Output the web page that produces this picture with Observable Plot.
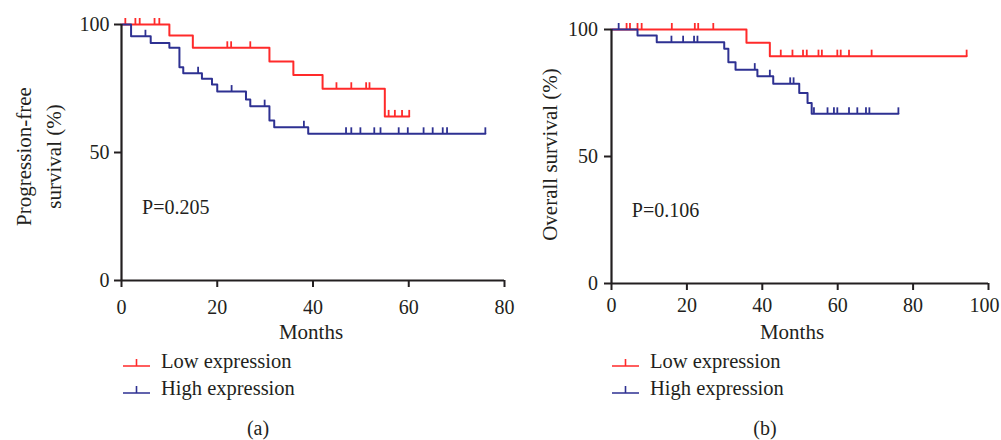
<!DOCTYPE html>
<html><head><meta charset="utf-8">
<script src="https://cdn.jsdelivr.net/npm/d3@7"></script>
<script src="https://cdn.jsdelivr.net/npm/@observablehq/plot@0.6"></script>
<style>
body{margin:0;background:#fff;font-family:"Liberation Serif",serif;color:#231f20;}
#wrap{position:relative;width:1001px;height:440px;overflow:hidden;}
.panel{position:absolute;top:0;}
.legend{position:absolute;font-size:20.5px;line-height:27px;}
.legend .row{display:flex;align-items:center;height:27px;}
.legend svg{margin-right:10px;}
.cap{position:absolute;font-size:20px;text-align:center;}
</style></head><body><div id="wrap"></div>
<script>
// ---- data ----
const seriesNames = ["Low expression", "High expression"];
const seriesColors = ["#ff2a2a", "#2e3192"];

// Panel (a): progression-free survival
const pfsLowEventTimes = [10.0, 14.9, 30.9, 35.9, 42.0, 55.0];
const pfsLowEventSurv  = [95.7, 90.9, 85.5, 80.3, 74.9, 64.1];
const pfsLowCensor     = [0.8, 2.9, 3.8, 6.9, 7.9, 22.1, 22.9, 26.9, 44.9, 48.0, 51.1, 51.8, 55.8, 57.1, 58.6, 60.1];
const pfsHighEventTimes = [2.0, 6.1, 10.0, 12.1, 12.9, 16.8, 18.9, 20.0, 26.0, 26.9, 30.9, 31.9, 39.0];
const pfsHighEventSurv  = [95.4, 92.8, 90.9, 83.3, 81.0, 78.8, 76.6, 73.8, 70.7, 68.1, 62.5, 59.9, 57.3];
const pfsHighCensor     = [5.0, 16.0, 23.0, 29.9, 38.1, 46.9, 48.0, 49.9, 52.8, 54.1, 57.9, 59.8, 63.1, 65.0, 67.1, 68.0, 76.0];

// Panel (b): overall survival
const osLowEventTimes = [35.8, 42.0];
const osLowEventSurv  = [94.8, 89.5];
const osLowCensor     = [4.0, 4.9, 6.9, 8.0, 16.0, 22.1, 23.0, 27.0, 44.9, 48.0, 50.8, 51.8, 54.9, 55.8, 59.9, 60.8, 63.0, 69.0, 94.2];
const osHighEventTimes = [6.9, 12.0, 29.9, 31.0, 32.9, 38.7, 42.9, 49.8, 52.0, 53.1];
const osHighEventSurv  = [97.6, 95.0, 92.4, 87.1, 84.2, 81.6, 78.6, 75.0, 71.1, 66.8];
const osHighCensor     = [1.9, 15.9, 19.0, 21.9, 22.8, 38.0, 42.0, 47.4, 48.3, 53.7, 57.3, 59.0, 59.9, 63.0, 65.2, 67.5, 68.4, 76.1];

const yTicks = [0, 50, 100];
const xTicksA = [0, 20, 40, 60, 80];
const xTicksB = [0, 20, 40, 60, 80, 100];
const xLabel = "Months";
const yLabelA = "Progression-free\nsurvival (%)";
const yLabelB = "Overall survival (%)";
const pLabels = ["P=0.205", "P=0.106"];
const pPosA = {x: 4.3, y: 28.5};
const pPosB = {x: 5.4, y: 28.7};
const captions = ["(a)", "(b)"];

// ---- helpers ----
function stepData(times, surv, censor, name) {
  const end = Math.max(censor[censor.length - 1], times[times.length - 1]);
  const pts = [{t: 0, s: 100, name}];
  times.forEach((t, i) => pts.push({t, s: surv[i], name}));
  pts.push({t: end, s: surv[surv.length - 1], name});
  return pts;
}
function censorData(times, surv, censor, name) {
  return censor.map(c => {
    let s = 100;
    times.forEach((t, i) => { if (t <= c) s = surv[i]; });
    return {t: c, s, name};
  });
}
const censorSymbol = {draw(ctx) { ctx.moveTo(0, 0); ctx.lineTo(0, -6.5); }};
const ink = "#231f20";

function panel(o) {
  const lowSteps = stepData(...o.low, seriesNames[0]);
  const highSteps = stepData(...o.high, seriesNames[1]);
  const lowC = censorData(...o.low, seriesNames[0]);
  const highC = censorData(...o.high, seriesNames[1]);
  const xMax = o.xTicks[o.xTicks.length - 1];
  return Plot.plot({
    width: o.width, height: o.height, marginLeft: o.mL, marginRight: o.mR, marginTop: o.mT, marginBottom: o.mB,
    style: {fontFamily: "Liberation Serif", fontSize: "20px", color: ink, background: "transparent", overflow: "visible"},
    x: {domain: [0, xMax]},
    y: {domain: [0, 100]},
    marks: [
      Plot.line(lowSteps, {x: "t", y: "s", curve: "step-after", stroke: seriesColors[0], strokeWidth: 2}),
      Plot.dot(lowC, {x: "t", y: "s", symbol: censorSymbol, stroke: seriesColors[0], fill: "none", strokeWidth: 1.8}),
      Plot.line(highSteps, {x: "t", y: "s", curve: "step-after", stroke: seriesColors[1], strokeWidth: 2}),
      Plot.dot(highC, {x: "t", y: "s", symbol: censorSymbol, stroke: seriesColors[1], fill: "none", strokeWidth: 1.8}),
      Plot.ruleX([0], {y1: 0, y2: 100, stroke: ink, strokeWidth: 2.2}),
      Plot.ruleY([0], {x1: 0, x2: xMax, stroke: ink, strokeWidth: 2.2}),
      Plot.axisX({ticks: o.xTicks, tickSize: 7, tickPadding: o.xPad, fontSize: 20, stroke: ink, strokeWidth: 2, fill: ink,
        tickFormat: d => (o.lastDx && d === xMax) ? "" : String(d), label: null}),
      o.lastDx ? Plot.axisX({ticks: [xMax], tickSize: 0, tickPadding: 7 + o.xPad, dx: o.lastDx, fontSize: 20, fill: ink, label: null}) : null,
      Plot.axisY({ticks: yTicks, tickSize: 7, tickPadding: o.yPad, fontSize: 20, stroke: ink, strokeWidth: 2, fill: ink, label: null}),
      Plot.text([o.yLabel], {frameAnchor: "left", text: d => d, rotate: -90, textAnchor: "middle", lineAnchor: "middle",
        lineHeight: 1.45, fontSize: 21, fill: ink, dx: o.yLabelDx, dy: o.yLabelDy}),
      Plot.text([xLabel], {frameAnchor: "bottom", text: d => d, textAnchor: "middle", lineAnchor: "middle", fontSize: 21, fill: ink,
        dx: o.xLabelDx, dy: o.xLabelDy}),
      Plot.text([o.p], {x: () => o.pPos.x, y: () => o.pPos.y, text: d => d, textAnchor: "start", fontSize: 20, fill: ink})
    ]
  });
}

const wrap = document.getElementById("wrap");
const a = panel({
  low: [pfsLowEventTimes, pfsLowEventSurv, pfsLowCensor],
  high: [pfsHighEventTimes, pfsHighEventSurv, pfsHighCensor],
  xTicks: xTicksA, yLabel: yLabelA, yLabelDx: -85, yLabelDy: 4, xLabelDx: -2, xLabelDy: 51.5,
  xPad: 12, yPad: 5, lastDx: 0,
  p: pLabels[0], pPos: pPosA,
  width: 520, height: 345, mL: 121, mR: 16, mT: 24, mB: 65
});
a.classList.add("panel"); a.style.left = "0px";
wrap.appendChild(a);
const b = panel({
  low: [osLowEventTimes, osLowEventSurv, osLowCensor],
  high: [osHighEventTimes, osHighEventSurv, osHighCensor],
  xTicks: xTicksB, yLabel: yLabelB, yLabelDx: -64, yLabelDy: -2, xLabelDx: -8, xLabelDy: 48.5,
  xPad: 7, yPad: 6.5, lastDx: -4,
  p: pLabels[1], pPos: pPosB,
  width: 481, height: 345, mL: 91, mR: 13, mT: 29, mB: 62
});
b.classList.add("panel"); b.style.left = "520px";
wrap.appendChild(b);

function legend(left, top) {
  const d = document.createElement("div");
  d.className = "legend";
  d.style.left = left + "px"; d.style.top = top + "px";
  seriesNames.forEach((n, i) => {
    const row = document.createElement("div");
    row.className = "row";
    row.innerHTML = `<svg width="29" height="14"><path d="M1,11H28M14.5,11V4" stroke="${seriesColors[i]}" stroke-width="1.6" fill="none"/></svg><span>${n}</span>`;
    d.appendChild(row);
  });
  wrap.appendChild(d);
}
legend(122, 348);
legend(611, 348);

function caption(text, left, width) {
  const c = document.createElement("div");
  c.className = "cap";
  c.style.left = left + "px"; c.style.width = width + "px"; c.style.top = "417px";
  c.textContent = text;
  wrap.appendChild(c);
}
caption(captions[0], 0, 516);
caption(captions[1], 520, 490);
</script>
</body></html>
